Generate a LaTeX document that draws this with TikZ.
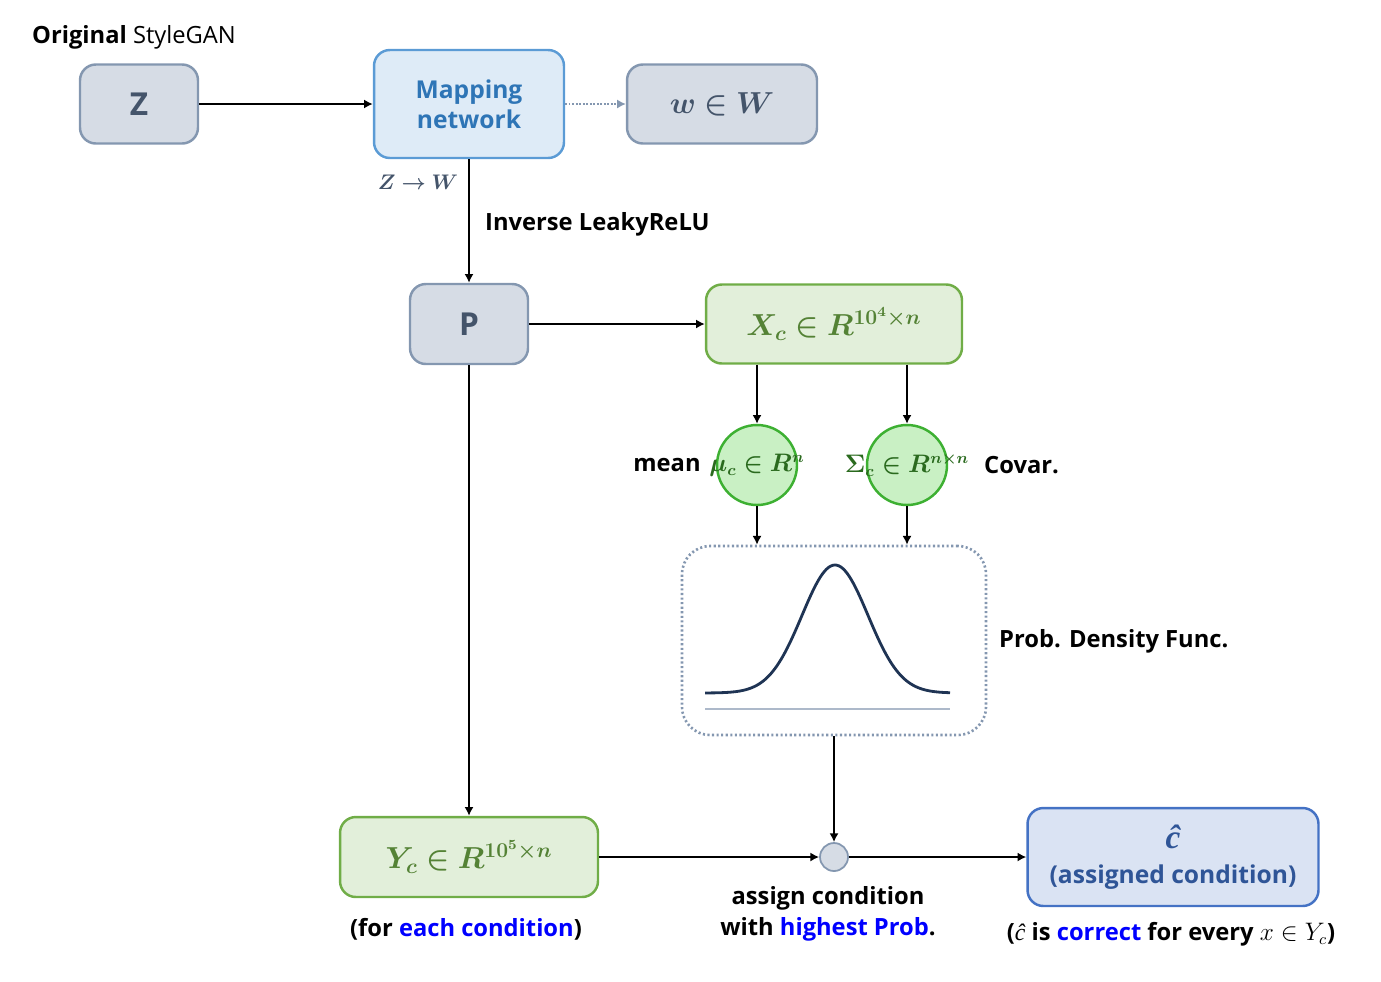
\documentclass[tikz,border=0pt]{standalone}
\usepackage{amsmath,bm}
\usepackage{fontspec}
\setmainfont{Open Sans}
\newfontfamily\letterfont{Liberation Serif}
\usetikzlibrary{arrows.meta}

\definecolor{grayfill}{HTML}{D6DCE5}
\definecolor{graydraw}{HTML}{8497B0}
\definecolor{graytext}{HTML}{44546A}
\definecolor{mapfill}{HTML}{DEEBF7}
\definecolor{mapdraw}{HTML}{5B9BD5}
\definecolor{maptext}{HTML}{2E75B6}
\definecolor{grnfill}{HTML}{E2EFDA}
\definecolor{grndraw}{HTML}{70AD47}
\definecolor{grntext}{HTML}{548235}
\definecolor{circfill}{HTML}{C9F0C4}
\definecolor{circdraw}{HTML}{3DB032}
\definecolor{circtext}{HTML}{2A6A1E}
\definecolor{outfill}{HTML}{DAE3F3}
\definecolor{outdraw}{HTML}{4472C4}
\definecolor{outtext}{HTML}{2F5597}
\definecolor{hlblue}{HTML}{0000FF}
\definecolor{curvecol}{HTML}{1F3454}
\definecolor{basecol}{HTML}{ADB9CA}

\tikzset{
  box/.style={draw, rounded corners=9pt, line width=1.4pt, align=center, inner sep=0pt},
  graybox/.style={box, draw=graydraw, fill=grayfill, text=graytext},
  mapbox/.style={box, draw=mapdraw, fill=mapfill, text=maptext},
  grnbox/.style={box, draw=grndraw, fill=grnfill, text=grntext},
  outbox/.style={box, draw=outdraw, fill=outfill, text=outtext},
  circ/.style={circle, draw=circdraw, fill=circfill, line width=1.4pt, minimum size=1.6cm, inner sep=0pt},
  circlabel/.style={text=circtext, font=\fontsize{13.5}{15}\selectfont},
  arrow/.style={-{Latex[length=5pt,width=5.2pt]}, line width=1pt},
  mathbig/.style={font=\fontsize{17}{20}\selectfont},
}

\begin{document}
\begin{tikzpicture}[x=0.02cm, y=-0.02cm, font=\fontsize{13.5}{17}\selectfont\bfseries]
	\useasboundingbox (0,0) rectangle (1381,981);

	% original StyleGAN row
	\node[anchor=west] (title) at (26,37) {Original \mdseries StyleGAN};
	\node[graybox, minimum width=2.36cm, minimum height=1.58cm, font=\fontsize{18}{20}\selectfont\bfseries] (z) at (139,104) {Z};
	\node[mapbox, minimum width=3.8cm, minimum height=2.16cm, font=\fontsize{14}{17}\selectfont\bfseries] (map) at (469,104) {Mapping\\network};
	\node[graybox, minimum width=3.8cm, minimum height=1.58cm, mathbig] (w) at (722,104) {$\bm{w\in W}$};
	\node[text=graytext, font=\fontsize{13}{15}\selectfont] (zw) at (418,182) {$\bm{Z\rightarrow W}$};
	\node[anchor=west] (inv) at (479,224) {Inverse LeakyReLU};

	\draw[arrow] (z) -- (map);
	\draw[-{Latex[length=5pt,width=5.2pt]}, graydraw, line width=0.8pt, dash pattern=on 1pt off 1pt] (map) -- (w);

	% P and samples
	\node[graybox, minimum width=2.36cm, minimum height=1.6cm, font=\fontsize{18}{20}\selectfont\bfseries] (p) at (469,324) {P};
	\node[grnbox, minimum width=5.12cm, minimum height=1.58cm, mathbig] (xc) at (834,324) {$\bm{X_c\in R^{10^4\times n}}$};
	\draw[arrow] (map) -- (p);
	\draw[arrow] (p) -- (xc);

	% mean and covariance
	\node[circ, label={[circlabel]center:$\bm{\mu_c\in R^n}$}] (mu) at (757,465) {};
	\node[circ, label={[circlabel]center:$\bm{\Sigma_c\in R^{n\times n}}$}] (sigma) at (907,465) {};
	\node (mean) at (667,465) {mean};
	\node[anchor=west] (covar) at (978,465) {Covar.};
	\draw[arrow] (xc.south -| mu) -- (mu);
	\draw[arrow] (xc.south -| sigma) -- (sigma);

	% density
	\node[draw=graydraw, rounded corners=16pt, line width=1.5pt, dash pattern=on 1.2pt off 1.4pt, minimum width=6.08cm, minimum height=3.78cm] (pdf) at (834,640.5) {};
	\draw[curvecol, line width=1.6pt] plot[domain=705:950, samples=120, smooth] (\x, {693-128*exp(-0.5*((\x-835)/33)^2)});
	\draw[basecol, line width=1pt] (705,709) -- (950,709);
	\node[anchor=west] (pdflabel) at (993,641) {Prob. Density Func.};
	\draw[arrow] (mu) -- (mu |- pdf.north);
	\draw[arrow] (sigma) -- (sigma |- pdf.north);

	% assignment
	\node[grnbox, minimum width=5.16cm, minimum height=1.6cm, mathbig] (yc) at (469,857) {$\bm{Y_c\in R^{10^5\times n}}$};
	\node[circle, draw=graydraw, fill=grayfill, line width=1pt, minimum size=0.56cm, inner sep=0pt] (dot) at (834,857) {};
	\node[outbox, minimum width=5.82cm, minimum height=1.96cm, font=\fontsize{14}{19}\selectfont\bfseries] (chat) at (1173,857) {{\fontsize{19}{19}\selectfont\letterfont\itshape ĉ}\\[1pt](assigned condition)};
	\draw[arrow] (p) -- (yc);
	\draw[arrow] (pdf) -- (dot);
	\draw[arrow] (yc) -- (dot);
	\draw[arrow] (dot) -- (chat);

	\node (each) at (466,929) {(for \textcolor{hlblue}{each condition})};
	\node[align=center, font=\fontsize{13.5}{17.5}\selectfont\bfseries] (assign) at (828,914) {assign condition\\with \textcolor{hlblue}{highest Prob}.};
	\node (correct) at (1171,934) {({\letterfont\mdseries\itshape ĉ} is \textcolor{hlblue}{correct} for every $x\in Y_c$)};

\end{tikzpicture}
\end{document}
